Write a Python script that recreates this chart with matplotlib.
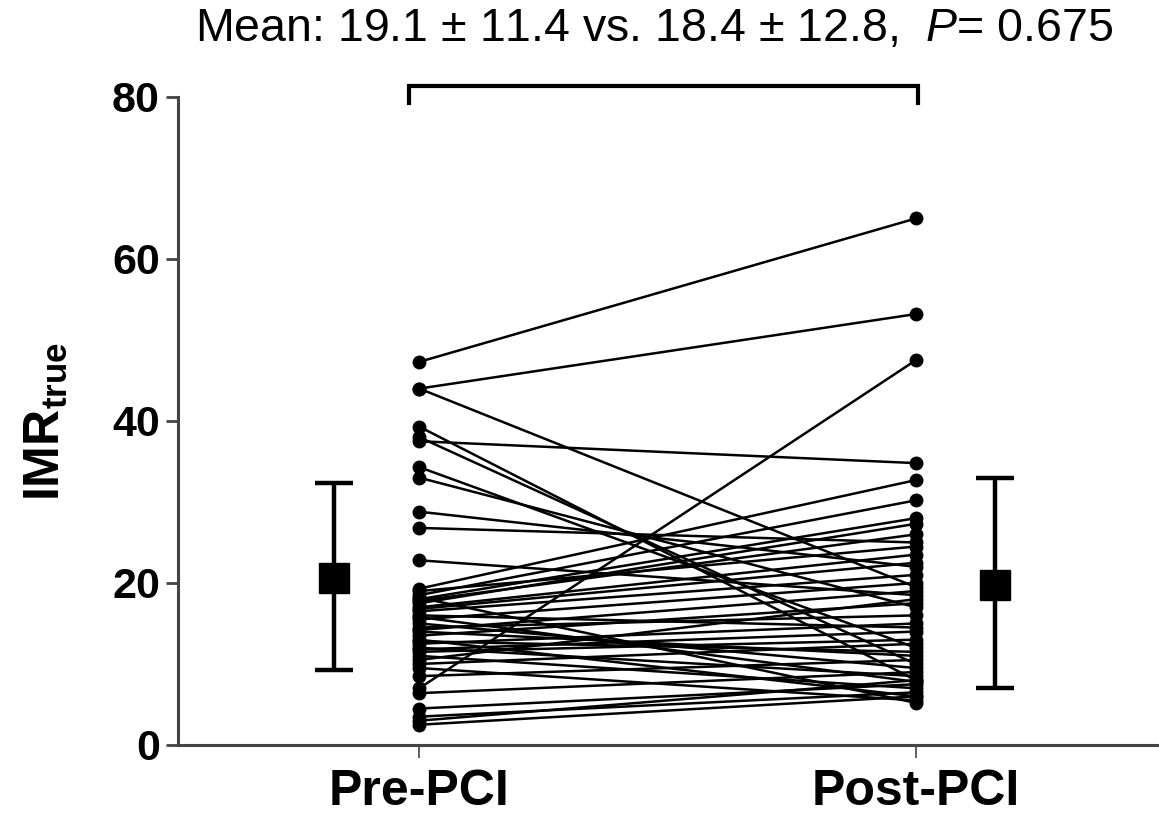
import matplotlib
matplotlib.use("Agg")
import matplotlib.pyplot as plt

plt.rcParams['font.family'] = ['Liberation Sans', 'DejaVu Sans']
plt.rcParams['mathtext.fontset'] = 'custom'
plt.rcParams['mathtext.rm'] = 'Liberation Sans'
plt.rcParams['mathtext.it'] = 'Liberation Sans:italic'
plt.rcParams['mathtext.bf'] = 'Liberation Sans:bold'

groups = ["Pre-PCI", "Post-PCI"]
pre_vals = [47.3, 44.0, 44.0, 39.3, 38.0, 37.5, 34.3, 33.0, 28.8, 26.8, 22.8, 7.0,
            19.3, 18.5, 18.0, 17.5, 19.0, 17.0, 16.5, 16.0, 15.5, 15.0, 14.5, 14.0,
            13.5, 13.0, 12.5, 12.0, 11.5, 11.0, 10.5, 10.0, 9.5, 8.5, 6.4, 4.5,
            3.5, 3.0, 2.5, 18.2, 17.8, 16.8, 14.2, 12.8, 11.8, 15.8]
post_vals = [65.0, 53.2, 19.5, 8.0, 10.0, 34.8, 12.0, 17.0, 22.0, 25.0, 18.5, 47.5,
             32.7, 30.2, 28.0, 27.3, 24.5, 23.5, 21.0, 14.5, 20.0, 9.5, 16.0, 11.0,
             17.5, 6.0, 15.0, 8.5, 13.0, 7.0, 18.0, 12.5, 5.5, 10.5, 9.0, 7.5,
             6.5, 8.0, 6.0, 5.2, 26.0, 22.5, 19.0, 11.5, 14.0, 7.8]

# summary symbols (mean and SD bars as drawn)
summary_mean = [20.6, 19.8]
summary_low = [9.3, 7.0]
summary_high = [32.3, 33.0]

title_text = "Mean: 19.1 \u00b1 11.4 vs. 18.4 \u00b1 12.8,  $\\it{P}$= 0.675"

fig = plt.figure(figsize=(11.59, 8.22), dpi=100)
ax = fig.add_axes([0.1536, 0.0937, 0.8464, 0.7883])

x_pre, x_post = 1.0, 2.0
for a, b in zip(pre_vals, post_vals):
    ax.plot([x_pre, x_post], [a, b], color='black', lw=1.8,
            marker='o', markersize=9, solid_capstyle='round', zorder=3)

sx = [0.829, 2.159]
for i in range(2):
    ax.errorbar(sx[i], summary_mean[i],
                yerr=[[summary_mean[i] - summary_low[i]], [summary_high[i] - summary_mean[i]]],
                fmt='s', color='black', markersize=21, elinewidth=3.2,
                capsize=14, capthick=3.2, zorder=4)

ax.set_xlim(0.514, 2.49)
ax.set_ylim(0, 80)
ax.set_yticks([0, 20, 40, 60, 80])
ax.set_xticks([x_pre, x_post])
ax.set_xticklabels(groups, fontsize=36, fontweight='bold')
for lab in ax.get_yticklabels():
    lab.set_fontsize(31)
    lab.set_fontweight('bold')

for s in ['top', 'right']:
    ax.spines[s].set_visible(False)
for s in ['left', 'bottom']:
    ax.spines[s].set_linewidth(2.2)
    ax.spines[s].set_color('#444444')
ax.tick_params(axis='y', length=9, width=2.0, color='#444444', pad=4)
ax.tick_params(axis='x', length=9, width=1.2, color='#444444', pad=8)

ax.set_ylabel(r"IMR$_{\mathbf{true}}$", fontsize=36, fontweight='bold', labelpad=30)

# bracket
ax.plot([0.98, 0.98, 2.005, 2.005], [79.3, 81.3, 81.3, 79.3],
        color='black', lw=3, clip_on=False, solid_joinstyle='miter')

fig.text(0.168, 0.965, title_text, fontsize=33.5, ha='left', va='center')

fig.savefig("out.png", dpi=100)
